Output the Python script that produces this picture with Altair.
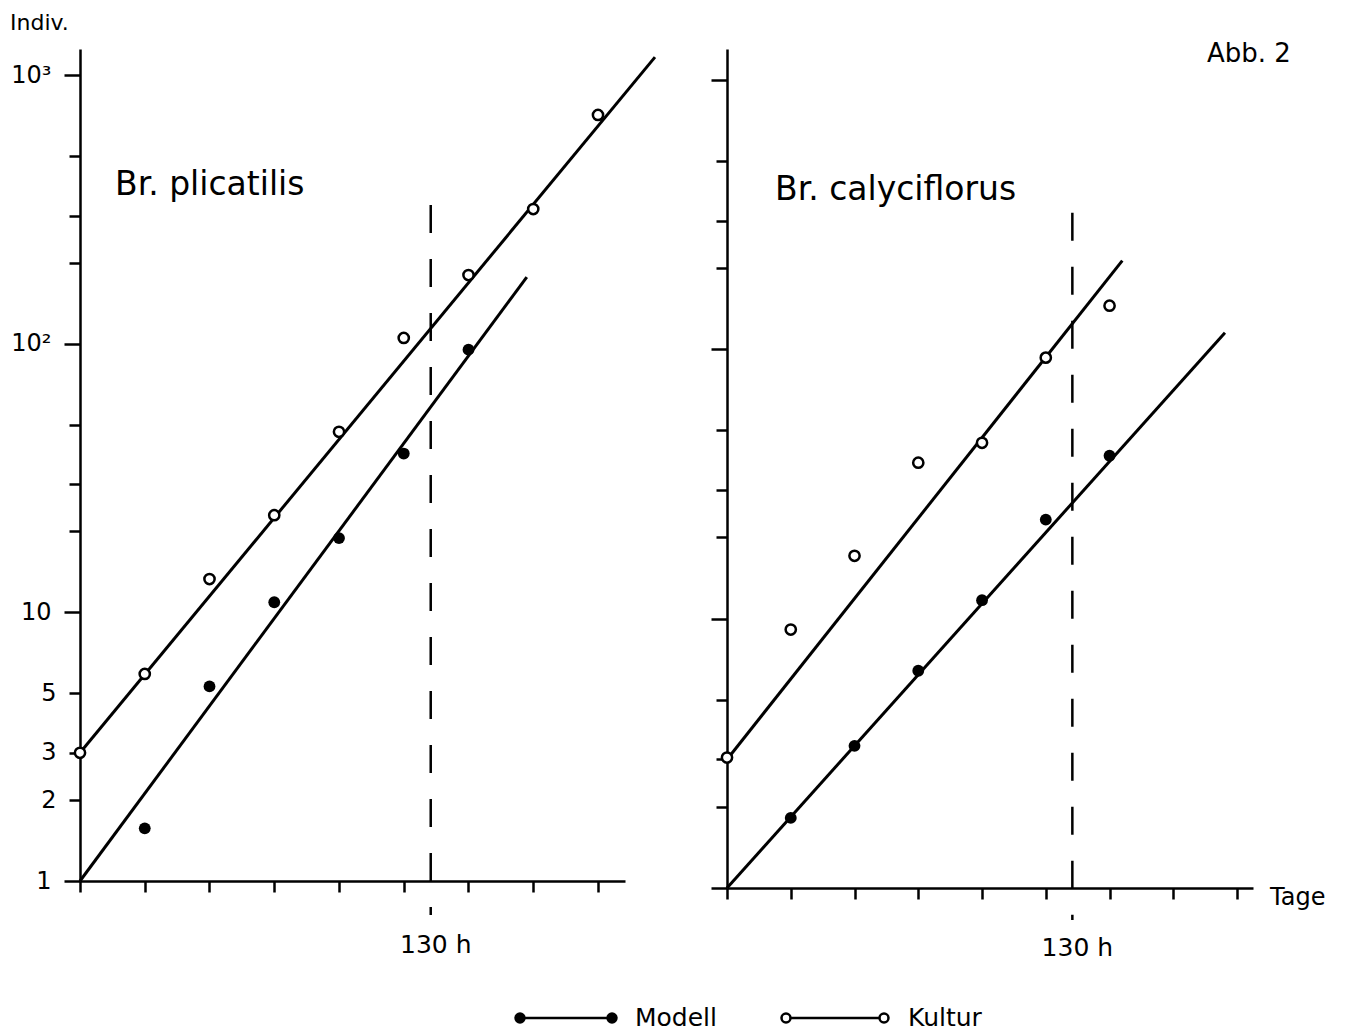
import altair as alt
import pandas as pd

# ---------------- data ----------------
# Br. plicatilis (left panel)
left_kultur_days = [0, 1, 2, 3, 4, 5, 6, 7, 8]
left_kultur_vals = [3.0, 5.9, 13.3, 23, 47, 105, 180, 317, 710]
left_modell_days = [1, 2, 3, 4, 5, 6]
left_modell_vals = [1.57, 5.3, 10.9, 18.9, 39, 95]
left_kultur_fit_days = [0, 8.88]
left_kultur_fit_vals = [3.0, 1166]
left_modell_fit_days = [0, 6.90]
left_modell_fit_vals = [1, 177]

# Br. calyciflorus (right panel)
right_kultur_days = [0, 1, 2, 3, 4, 5, 6]
right_kultur_vals = [3.05, 9.1, 17.1, 37.9, 44.9, 93, 145]
right_modell_days = [1, 2, 3, 4, 5, 6]
right_modell_vals = [1.82, 3.37, 6.4, 11.7, 23.3, 40.2]
right_kultur_fit_days = [0, 6.20]
right_kultur_fit_vals = [3.0, 213]
right_modell_fit_days = [0, 7.81]
right_modell_fit_vals = [1, 115]

x_ticks = [0, 1, 2, 3, 4, 5, 6, 7, 8]
y_ticks = [1, 2, 3, 5, 10, 20, 30, 50, 100, 200, 300, 500, 1000]
mark_hours = 130
FONT = "DejaVu Sans"

one = pd.DataFrame({"k": [0]})


def df(days, vals):
    return pd.DataFrame({"day": days, "n": vals})


def panel(kd, kv, md, mv, kfd, kfv, mfd, mfv, width, height, xmax, ymax,
          title, title_xy, show_labels, dash_top, dash_below, lab_y, extras):
    x_enc = alt.X("day:Q", scale=alt.Scale(domain=[0, xmax], nice=False, zero=False),
                  axis=alt.Axis(values=x_ticks, labels=False, tickSize=11, tickWidth=2.5,
                                domainWidth=2.5, domainColor="black", tickColor="black",
                                grid=False, title=None))
    label_expr = ("datum.value == 1000 ? '10³' : datum.value == 100 ? '10²' : "
                  "datum.value == 10 ? '10' : datum.value == 5 ? '5' : datum.value == 3 ? '3' : "
                  "datum.value == 2 ? '2' : datum.value == 1 ? '1' : ''")
    y_axis = alt.Axis(values=y_ticks, labels=show_labels, labelExpr=label_expr,
                      labelFont=FONT, labelFontSize=24, labelColor="black", labelPadding=13,
                      tickSize={"condition": {"test": "datum.value == 1 || datum.value == 10 || datum.value == 100 || datum.value == 1000",
                                              "value": 16}, "value": 11},
                      tickWidth=2.5, domainWidth=2.5, domainColor="black", tickColor="black",
                      grid=False, title=None)
    y_enc = alt.Y("n:Q", scale=alt.Scale(type="log", domain=[1, ymax], nice=False), axis=y_axis)

    fit_k = alt.Chart(df(kfd, kfv)).mark_line(color="black", strokeWidth=3).encode(x=x_enc, y=y_enc)
    fit_m = alt.Chart(df(mfd, mfv)).mark_line(color="black", strokeWidth=3).encode(x="day:Q", y="n:Q")
    pts_k = alt.Chart(df(kd, kv)).mark_point(shape="circle", filled=False, fill="white", fillOpacity=1,
                                            stroke="black", strokeWidth=2.5, size=105, opacity=1).encode(x="day:Q", y="n:Q")
    pts_m = alt.Chart(df(md, mv)).mark_circle(color="black", size=140, opacity=1).encode(x="day:Q", y="n:Q")
    dash = alt.Chart(one).mark_rule(color="black", strokeWidth=2.5, strokeDash=[28, 26]).encode(
        x=alt.datum(mark_hours / 24), y=alt.datum(dash_top), y2=alt.value(height + dash_below))
    hlab = alt.Chart(one).mark_text(text="130  h", font=FONT, fontSize=25, align="center",
                                    baseline="middle", dx=5, color="black").encode(
        x=alt.datum(mark_hours / 24), y=alt.value(height + lab_y))
    ttl = alt.Chart(one).mark_text(text=title, font=FONT, fontSize=33, align="left",
                                   baseline="alphabetic", color="black").encode(
        x=alt.value(title_xy[0]), y=alt.value(title_xy[1]))
    layers = [fit_k, fit_m, pts_k, pts_m, dash, hlab, ttl] + extras
    return alt.layer(*layers).properties(width=width, height=height)


def txt(s, x, y, size, align="left", baseline="alphabetic"):
    return alt.Chart(one).mark_text(text=s, font=FONT, fontSize=size, align=align,
                                    baseline=baseline, color="black").encode(
        x=alt.value(x), y=alt.value(y))


LW, LH = 545, 832
RW, RH = 526, 839
ly = 969  # legend row, relative to left plot top

legend = [
    alt.Chart(one).mark_rule(color="black", strokeWidth=2.5).encode(
        x=alt.value(440), x2=alt.value(532), y=alt.value(ly)),
    alt.Chart(one).mark_circle(color="black", size=130, opacity=1).encode(x=alt.value(440), y=alt.value(ly)),
    alt.Chart(one).mark_circle(color="black", size=130, opacity=1).encode(x=alt.value(532), y=alt.value(ly)),
    txt("Modell", 555, ly, 25, baseline="middle"),
    alt.Chart(one).mark_rule(color="black", strokeWidth=2.5).encode(
        x=alt.value(706), x2=alt.value(804), y=alt.value(ly)),
    alt.Chart(one).mark_point(shape="circle", filled=False, fill="white", fillOpacity=1, stroke="black",
                              strokeWidth=2.5, size=80, opacity=1).encode(x=alt.value(706), y=alt.value(ly)),
    alt.Chart(one).mark_point(shape="circle", filled=False, fill="white", fillOpacity=1, stroke="black",
                              strokeWidth=2.5, size=80, opacity=1).encode(x=alt.value(804), y=alt.value(ly)),
    txt("Kultur", 828, ly, 25, baseline="middle"),
    txt("Indiv.", -70, -19, 22),
]

left = panel(left_kultur_days, left_kultur_vals, left_modell_days, left_modell_vals,
             left_kultur_fit_days, left_kultur_fit_vals, left_modell_fit_days, left_modell_fit_vals,
             LW, LH, 8.417, 1250, "Br. plicatilis", (35, 146), True, 328, 34, 64, legend)

right_extras = [
    txt("Abb. 2", 480, 13, 26),
    txt("Tage", RW + 17, RH + 10, 24, baseline="middle"),
]
right = panel(right_kultur_days, right_kultur_vals, right_modell_days, right_modell_vals,
              right_kultur_fit_days, right_kultur_fit_vals, right_modell_fit_days, right_modell_fit_vals,
              RW, RH, 8.25, 1300, "Br. calyciflorus", (48, 151), False, 321, 32, 60, right_extras)

chart = alt.hconcat(left, right, spacing=102, bounds="flush").properties(
    padding={"left": 2, "top": 4, "right": 5, "bottom": 5},
    background="white",
).configure_view(strokeWidth=0, stroke="transparent")

chart.save("out.html", embed_options={"renderer": "svg", "actions": False})
